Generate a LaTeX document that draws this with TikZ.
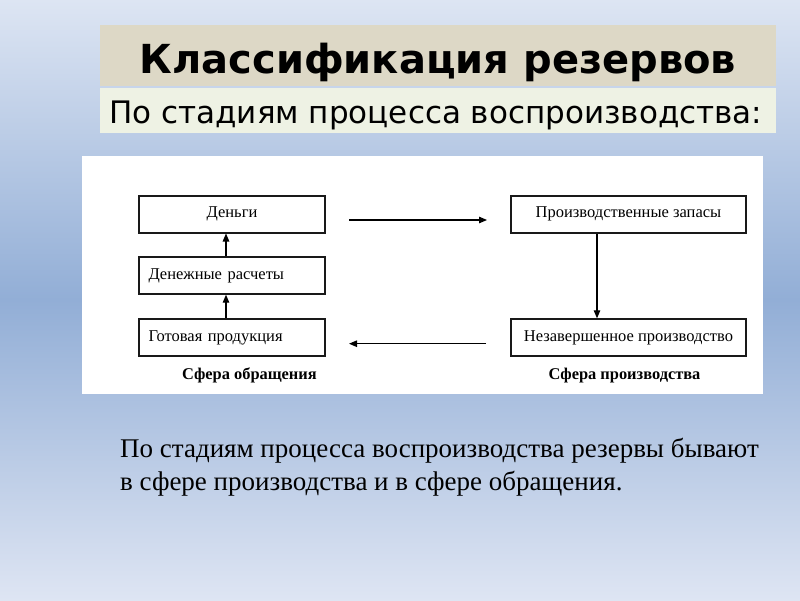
\documentclass[tikz,border=0pt]{standalone}
\usepackage{fontspec}
\setmainfont{Liberation Serif}
\newfontfamily\dejavu{DejaVu Sans}
\usetikzlibrary{arrows.meta,calc}
\definecolor{bgtop}{RGB}{221,229,243}
\definecolor{bgmid}{RGB}{146,174,214}
\definecolor{bgbot}{RGB}{222,229,243}
\definecolor{titleband}{RGB}{221,216,198}
\definecolor{subband}{RGB}{238,242,228}
\begin{document}
\begin{tikzpicture}[x=1pt,y=-1pt,
  box/.style={draw=black!90, line width=1.4pt, minimum width=186pt, minimum height=37pt, inner sep=0pt, font=\fontsize{16.5}{19}\selectfont},
  rbox/.style={box, minimum width=235pt},
  lbox/.style={box, text width=167pt, inner xsep=9.5pt, align=left},
  arr/.style={-{Triangle[length=8pt,width=6.5pt]}, line width=1.1pt, black},
  sfera/.style={font=\bfseries\fontsize{16.4}{19}\selectfont, anchor=base}]
\useasboundingbox (0,0) rectangle (800,600);
\shade[top color=bgtop, bottom color=bgbot, middle color=bgmid] (0,0) rectangle (800,600);
% title bands
\fill[titleband] (100,25) rectangle (776,86);
\fill[subband] (100,88) rectangle (776,133);
\node[font=\dejavu\bfseries\fontsize{40}{48}\selectfont, anchor=base, inner sep=0pt] (title) at (438,73.6) {Классификация резервов};
\node[font=\dejavu\fontsize{31}{38}\selectfont, anchor=base west, inner sep=0pt] (subtitle) at (109,123.4) {По стадиям процесса воспроизводства:};
% panel
\fill[white] (81.5,156) rectangle (763,393.5);
% boxes
\node[box] (money) at (232,214.3) {Деньги};
\node[lbox] (calc) at (232,275.5) {Денежные расчеты};
\node[lbox] (goods) at (232,337.5) {Готовая продукция};
\node[rbox] (stock) at (628.5,214.3) {Производственные запасы};
\node[rbox] (wip) at (628.5,337.5) {Незавершенное производство};
\coordinate (lx) at (226,0);
\coordinate (rx) at (597,0);
\draw[arr] (goods.north -| lx) -- (calc.south -| lx);
\draw[arr] (calc.north -| lx) -- (money.south -| lx);
\draw[arr] (stock.south -| rx) -- (wip.north -| rx);
\coordinate (t1) at (349,220);
\coordinate (t2) at (487,220);
\coordinate (b1) at (486,343.7);
\coordinate (b2) at (349,343.7);
\draw[arr] (t1) -- (t2);
\draw[arr] (b1) -- (b2);
\node[sfera] (obr) at (249.5,379) {Сфера обращения};
\node[sfera] (proizv) at (624.5,379) {Сфера производства};
% bottom text
\node[anchor=base west, inner sep=0pt, font=\fontsize{27}{33}\selectfont] (line1) at (120,457) {По стадиям процесса воспроизводства резервы бывают};
\node[anchor=base west, inner sep=0pt, font=\fontsize{27}{33}\selectfont] (line2) at (120,490) {в сфере производства и в сфере обращения.};
\end{tikzpicture}
\end{document}
